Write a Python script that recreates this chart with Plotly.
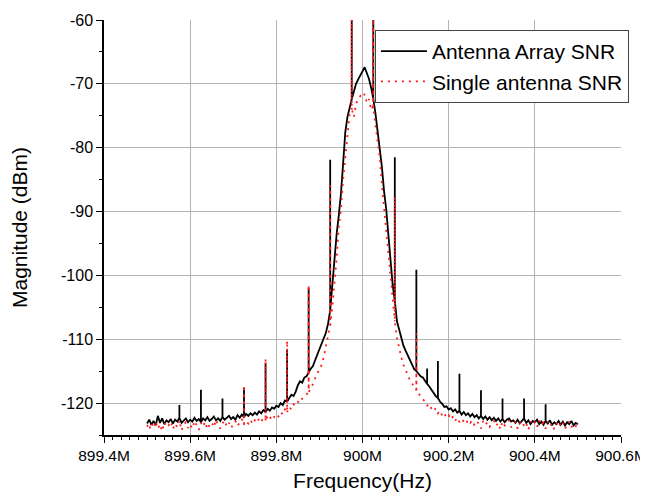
import plotly.graph_objects as go

# spectrum grid: 899.500 MHz .. 900.500 MHz, 5 kHz step
f_start_mhz = 899.5
f_step_mhz = 0.005

array_snr = [
    -123.2, -122.6, -123.4, -122.8, -123.5, -122.0, -123.1, -122.4, -123.3, -122.7,
    -123.0, -122.5, -123.2, -122.6, -122.9, -122.3, -123.1, -122.7, -122.4, -123.0,
    -122.6, -122.9, -122.3, -122.8, -122.5, -123.0, -122.4, -122.7, -122.2, -122.8,
    -122.5, -122.1, -122.7, -122.4, -122.8, -122.2, -122.6, -122.3, -122.0, -122.5,
    -122.2, -122.6, -121.9, -122.3, -121.8, -122.2, -121.7, -122.0, -121.6, -121.9,
    -121.5, -121.8, -121.3, -121.6, -121.1, -121.4, -120.9, -121.2, -120.7, -120.9,
    -120.4, -120.6, -120.0, -120.3, -119.6, -119.8, -119.2, -118.7, -118.9, -118.2,
    -117.2, -116.6, -116.8, -116.0, -115.8, -115.2, -114.6, -114.2, -113.3, -112.5,
    -111.6, -110.8, -109.9, -109.0, -107.6, -105.5, -101.5, -97.3, -93.5, -90.6,
    -87.2, -82.5, -77.6, -75.2, -73.8, -72.4, -71.2, -70.0, -69.3, -68.6,
    -67.9, -67.4, -68.3, -69.2, -70.6, -72.3, -74.6, -77.3, -79.6, -83.0,
    -86.8, -89.6, -93.6, -98.0, -101.5, -104.0, -107.2, -108.6, -110.0, -111.0,
    -111.8, -112.6, -113.2, -113.9, -114.7, -115.0, -115.4, -115.8, -116.0, -116.6,
    -117.0, -117.4, -117.9, -118.5, -118.9, -119.2, -119.8, -120.1, -120.6, -120.5,
    -121.0, -120.8, -121.3, -121.0, -121.5, -121.2, -121.8, -121.4, -121.9, -121.6,
    -122.1, -121.7, -122.2, -121.9, -122.4, -122.0, -122.5, -122.1, -122.6, -122.2,
    -122.7, -122.3, -122.8, -122.4, -122.9, -122.5, -123.0, -122.6, -122.4, -122.9,
    -122.7, -123.1, -122.6, -123.2, -122.8, -122.4, -123.1, -122.7, -123.3, -122.8,
    -123.0, -122.6, -123.3, -122.9, -123.4, -122.8, -123.2, -122.7, -123.4, -123.0,
    -123.3, -122.8, -123.4, -122.9, -123.5, -123.0, -123.3, -122.8, -123.5, -123.1,
    -123.3,
]

single_snr = [
    -123.4, -124.2, -123.1, -123.9, -122.8, -124.0, -123.3, -124.4, -123.0, -123.8,
    -123.5, -122.9, -124.1, -123.2, -123.8, -122.7, -124.3, -123.4, -123.0, -123.9,
    -123.3, -124.0, -122.8, -123.6, -124.2, -123.1, -123.7, -122.9, -124.1, -123.4,
    -123.0, -123.8, -122.6, -123.5, -124.0, -123.2, -122.7, -123.7, -123.1, -123.9,
    -123.3, -122.8, -123.6, -123.0, -122.5, -123.4, -122.9, -123.2, -122.6, -123.3,
    -122.7, -123.1, -122.4, -122.9, -122.3, -122.7, -122.0, -122.5, -121.8, -122.2,
    -121.7, -122.1, -121.4, -121.8, -121.0, -121.4, -120.6, -121.0, -120.2, -120.4,
    -119.8, -120.0, -119.3, -119.0, -118.7, -118.2, -117.8, -117.0, -116.2, -115.3,
    -114.8, -114.0, -112.8, -111.2, -109.6, -107.8, -105.0, -101.5, -97.4, -92.4,
    -89.6, -85.0, -81.2, -77.5, -74.8, -73.9, -75.2, -73.0, -72.6, -71.9,
    -72.2, -71.6, -73.0, -72.4, -74.1, -73.5, -76.5, -79.0, -81.4, -85.8,
    -89.4, -93.2, -96.6, -100.5, -104.0, -107.2, -109.8, -111.4, -112.8, -114.0,
    -114.8, -115.5, -116.4, -116.9, -117.6, -118.0, -118.5, -118.9, -119.3, -119.8,
    -120.4, -120.1, -120.9, -121.3, -120.8, -121.6, -121.2, -122.0, -121.6, -122.3,
    -121.9, -122.6, -122.1, -122.8, -122.3, -123.0, -122.5, -122.9, -123.3, -122.6,
    -123.1, -122.7, -123.5, -122.9, -123.2, -124.0, -122.8, -123.4, -123.0, -123.7,
    -123.2, -122.8, -123.6, -123.1, -124.1, -122.9, -123.5, -123.0, -122.7, -123.8,
    -123.3, -122.9, -124.0, -123.2, -122.8, -123.6, -123.1, -124.2, -122.9, -123.4,
    -123.0, -123.8, -122.7, -123.5, -123.1, -124.0, -122.9, -123.6, -123.2, -124.1,
    -123.3, -122.8, -123.7, -123.1, -124.0, -123.4, -122.9, -123.8, -123.2, -123.6,
    -123.4,
]

# narrow spurs (MHz, top level in dBm)
array_spur_mhz = [899.575, 899.625, 899.675, 899.725, 899.775, 899.825, 899.875, 899.925, 899.975,
                  900.025, 900.075, 900.125, 900.15, 900.175, 900.225, 900.275, 900.325, 900.375, 900.425]
array_spur_top = [-120.3, -117.9, -119.3, -117.6, -113.8, -111.7, -102.0, -81.9, -50.0,
                  -50.0, -81.5, -99.1, -114.6, -113.4, -115.4, -118.0, -119.3, -119.3, -120.2]
single_spur_mhz = [899.725, 899.775, 899.825, 899.875, 899.925, 899.975, 900.025, 900.075, 900.125]
single_spur_top = [-117.2, -113.0, -110.2, -101.5, -85.9, -50.0, -50.0, -87.7, -109.1]

x_tick_vals = [899.4e6, 899.6e6, 899.8e6, 900.0e6, 900.2e6, 900.4e6, 900.6e6]
x_tick_text = ["899.4M", "899.6M", "899.8M", "900M", "900.2M", "900.4M", "900.6M"]
y_tick_vals = [-120, -110, -100, -90, -80, -70, -60]
y_tick_text = ["-120", "-110", "-100", "-90", "-80", "-70", "-60"]


def build_trace(levels, spur_mhz, spur_top):
    spurs = {round((f - f_start_mhz) / f_step_mhz): top for f, top in zip(spur_mhz, spur_top)}
    xs, ys = [], []
    for i, v in enumerate(levels):
        hz = (f_start_mhz + i * f_step_mhz) * 1e6
        xs.append(hz)
        ys.append(v)
        if i in spurs:
            xs += [hz, hz]
            ys += [spurs[i], v]
    return xs, ys


ax, ay = build_trace(array_snr, array_spur_mhz, array_spur_top)
sx, sy = build_trace(single_snr, single_spur_mhz, single_spur_top)

fig = go.Figure()
fig.add_trace(go.Scatter(x=ax, y=ay, mode="lines", name="Antenna Array SNR",
                         line=dict(color="black", width=1.8)))
fig.add_trace(go.Scatter(x=sx, y=sy, mode="lines", name="Single antenna SNR",
                         line=dict(color="#ff1a1a", width=1.8, dash="2px,5px")))

font_name = "Liberation Sans, Arial, sans-serif"
# the page body adds an 8px margin, so the figure sits 8px in from the window corner
fig.update_layout(
    width=640, height=484,
    margin=dict(l=96, r=27, t=12, b=57),
    plot_bgcolor="white", paper_bgcolor="white",
    font=dict(family=font_name, size=16, color="black"),
    showlegend=True,
    legend=dict(x=0.524, y=0.976, xanchor="left", yanchor="top",
                bgcolor="white", bordercolor="#444", borderwidth=1,
                font=dict(size=21), tracegroupgap=0, itemwidth=46),
    xaxis=dict(
        range=[899.4e6, 900.6e6], automargin=False,
        tickmode="array", tickvals=x_tick_vals, ticktext=x_tick_text,
        tickfont=dict(size=15.5), ticklabeloverflow="allow",
        ticks="outside", ticklen=6, tickwidth=1.2, tickcolor="black",
        showline=True, linecolor="black", linewidth=1.5,
        showgrid=True, gridcolor="#b4b4b4", gridwidth=1,
        zeroline=False,
        minor=dict(tick0=899.4e6, dtick=0.02e6, ticks="outside", ticklen=3,
                   tickcolor="black", showgrid=False),
        title=dict(text="Frequency(Hz)", font=dict(size=21), standoff=15),
    ),
    yaxis=dict(
        range=[-125, -60], automargin=False,
        tickmode="array", tickvals=y_tick_vals, ticktext=y_tick_text,
        ticks="outside", ticklen=6, tickwidth=1.2, tickcolor="black",
        showline=True, linecolor="black", linewidth=1.5,
        showgrid=True, gridcolor="#b4b4b4", gridwidth=1,
        zeroline=False,
        minor=dict(tick0=-125, dtick=5, ticks="outside", ticklen=3,
                   tickcolor="black", showgrid=False),
        title=dict(text="Magnitude (dBm)", font=dict(size=21), standoff=30),
    ),
)

fig.write_html("out.html")
